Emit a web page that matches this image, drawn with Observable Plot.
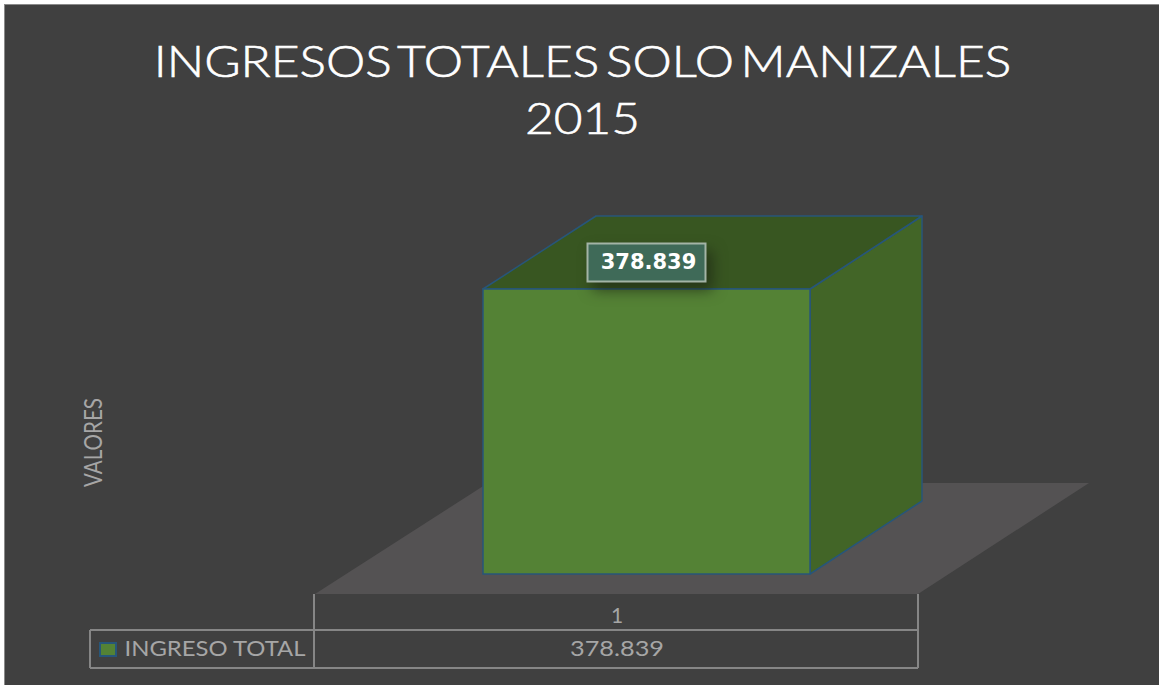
<!DOCTYPE html>
<html><head><meta charset="utf-8">
<script src="https://cdn.jsdelivr.net/npm/d3@7"></script>
<script src="https://cdn.jsdelivr.net/npm/@observablehq/plot@0.6"></script>
<style>
html,body{margin:0;padding:0;background:#fff}
#chart{position:absolute;left:4px;top:4px;width:1155px;height:681px;box-sizing:border-box;background:#404040;border-left:1px solid #8a8a8a;border-top:1px solid #8a8a8a;overflow:hidden}
#title{position:absolute;left:-5px;width:1159px;top:0;height:140px;margin:0;text-align:center;color:#fff;font:300 43.5px/57px Lato,sans-serif;padding-top:27px;box-sizing:border-box;word-spacing:-6px;-webkit-text-stroke:.6px #fff;transform:translateX(3px) scaleX(1.141)}
#plot{position:absolute;left:-5px;top:140px}
svg{display:block;overflow:visible}
</style></head><body>
<div id="chart"><h1 id="title">INGRESOS TOTALES SOLO MANIZALES<br>2015</h1><div id="plot"></div></div>
<script>
const categories = ["1"];
const series = "INGRESO TOTAL";
const values = [378839];
const axisTitle = "VALORES";
const fmt = d => d3.format(",")(d).replace(/,/g, ".");
const rows = categories.map((c,i)=>({category:c,value:values[i]}));

const depth = [112,-73];       // 3D offset of the box's back face
const shift = [30,-20];        // bar's front face inset on the floor
const edge = "#27567a";
const NS = "http://www.w3.org/2000/svg";

function box(index, scales, vals, dims, ctx, next){
  const g = next(index, scales, vals, dims, ctx);
  const i = index[0];
  const x1 = vals.x[i], x2 = x1 + scales.x.bandwidth();
  const yt = Math.min(vals.y1[i], vals.y2[i]);
  const yb = scales.y(0);
  const [dx,dy] = depth;
  const fL = scales.x.range()[0]-shift[0], fR = scales.x.range()[1]-shift[0];
  const fb = yb - shift[1];
  const poly = (pts, fill, stroke) => {
    const p = document.createElementNS(NS,"polygon");
    p.setAttribute("points", pts.map(q=>q.join(",")).join(" "));
    p.setAttribute("fill", fill);
    p.setAttribute("stroke", stroke || "none");
    p.setAttribute("stroke-width",1.5);
    p.setAttribute("stroke-linejoin","round");
    return p;
  };
  const first = g.firstChild;
  g.insertBefore(poly([[fL,fb],[fR,fb],[fR+171,fb-111],[fL+173,fb-111]],"#545253"), first);
  g.insertBefore(poly([[x2,yt],[x2+dx,yt+dy],[x2+dx,yb+dy],[x2,yb]],"#426527",edge), first);
  g.insertBefore(poly([[x1,yt],[x1+dx+1,yt+dy],[x2+dx,yt+dy],[x2,yt]],"#385621",edge), first);
  return g;
}

function labelBox(index, scales, vals, dims, ctx, next){
  const g = next(index, scales, vals, dims, ctx);
  const i = index[0];
  const r = document.createElementNS(NS,"rect");
  r.setAttribute("x",vals.x[i]-61); r.setAttribute("width",118);
  r.setAttribute("y",vals.y[i]-19); r.setAttribute("height",38);
  r.setAttribute("fill","#3f6a58"); r.setAttribute("stroke","#a3b4a6"); r.setAttribute("stroke-width",2);
  r.setAttribute("style","filter:drop-shadow(6px 8px 7px rgba(30,40,20,.7))");
  g.insertBefore(r,g.firstChild);
  return g;
}

// stretch a text mark's glyphs to a given length
const stretched = len => (index, scales, vals, dims, ctx, next) => {
  const g = next(index, scales, vals, dims, ctx);
  g.querySelectorAll("text").forEach(t=>{t.setAttribute("textLength",len);t.setAttribute("lengthAdjust","spacingAndGlyphs");});
  return g;
};

function tableLines(index, scales){
  const g = d3.create("svg:g").attr("stroke","#868686").attr("stroke-width",2).attr("fill","none");
  const [L,R] = scales.x.range();
  const y0 = scales.y(0)+20, y1 = y0+36, y2 = y1+38;
  const left = 90;
  [[L-1,y0,L-1,y2],[R,y0,R,y2],[left,y1,R,y1],[left,y2,R,y2],[left,y1,left,y2]].forEach(([a,b,c,d])=>
    g.append("line").attr("x1",a).attr("y1",b).attr("x2",c).attr("y2",d));
  g.append("rect").attr("x",left+10).attr("y",y1+13).attr("width",16).attr("height",13)
    .attr("fill","#548235").attr("stroke",edge).attr("stroke-width",2);
  return g.node();
}

const txt = "#a6a6a6";
const chart = Plot.plot({
  width:1159, height:540, margin:0,
  style:{background:"transparent",fontFamily:"Lato,sans-serif",overflow:"visible"},
  x:{type:"band",domain:categories,range:[315,918],paddingInner:0,paddingOuter:0.422,axis:null},
  y:{domain:[0,d3.max(values)],range:[429,144],axis:null},
  marks:[
    Plot.barY(rows,{x:"category",y:"value",dx:30,fill:"#548235",stroke:edge,strokeWidth:1.5,render:box}),
    tableLines,
    Plot.text(rows,{x:"category",text:"category",frameAnchor:"top",dy:463,fill:txt,fontSize:21}),
    Plot.text(rows,{x:"category",text:d=>fmt(d.value),frameAnchor:"top",dy:496,fill:txt,fontSize:21,render:stretched(94)}),
    Plot.text([series],{text:d=>d,frameAnchor:"top-left",dy:496,dx:124,fill:txt,fontSize:21,render:stretched(181)}),
    Plot.text([axisTitle],{text:d=>d,frameAnchor:"left",textAnchor:"middle",rotate:-90,dx:93,dy:27,fill:txt,fontSize:25,render:stretched(89)}),
    Plot.text(rows,{x:"category",y:"value",text:d=>fmt(d.value),dx:31.5,dy:-27,fill:"#fff",fontWeight:"bold",fontSize:21,fontFamily:"DejaVu Sans",render:labelBox})
  ]
});
document.getElementById("plot").append(chart);
</script></body></html>
